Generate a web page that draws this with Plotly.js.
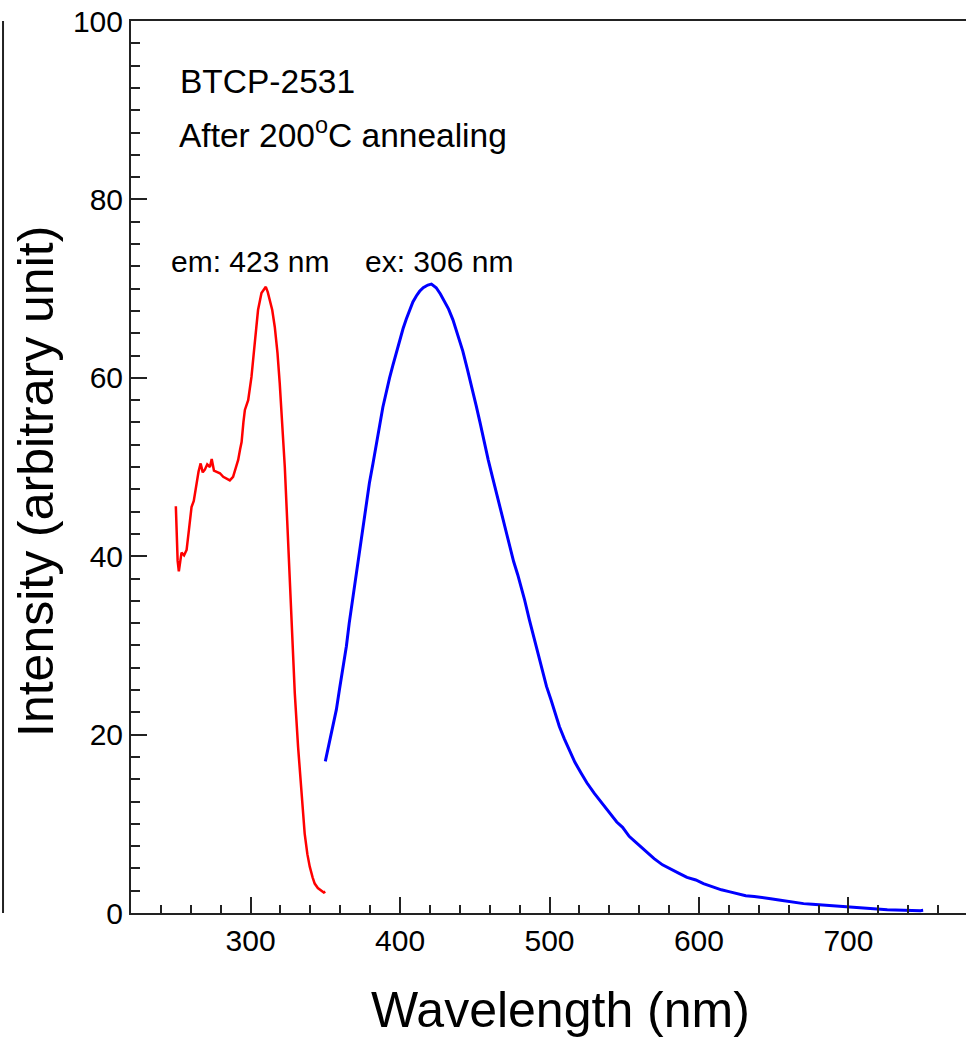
<!DOCTYPE html>
<html>
<head>
<meta charset="utf-8">
<script src="https://cdn.plot.ly/plotly-3.0.1.min.js"></script>
<style>
html, body { margin:0; padding:0; overflow:hidden; background:#fff; }
#chart { width:970px; height:1040px; }
</style>
</head>
<body>
<div id="chart"></div>
<script>
// Excitation spectrum (monitored at em: 423 nm)
var exWavelength = [250.0,250.5,251.2,252.0,253.0,253.8,255.5,257.2,258.8,260.5,262.0,263.9,265.2,266.6,268.0,269.4,271.0,272.8,274.0,275.5,277.2,279.5,281.7,284.0,286.1,288.3,290.0,291.7,293.0,294.0,295.2,296.2,298.4,300.6,302.8,305.0,307.3,308.8,310.2,311.5,312.9,314.5,316.2,318.0,319.5,321.2,322.9,324.5,326.2,327.3,329.6,331.8,334.0,336.2,338.0,339.6,341.5,342.9,345.0,347.0,349.0,350.0];
var exIntensity  = [45.6,42.0,39.5,38.3,39.6,40.4,40.1,40.7,43.0,45.5,46.2,48.2,49.5,50.4,49.4,49.7,50.3,50.0,50.9,49.6,49.5,49.3,48.9,48.7,48.5,48.9,49.8,50.8,52.0,52.8,55.0,56.4,57.5,60.1,63.9,67.6,69.5,69.8,70.2,69.6,68.7,67.6,65.7,62.8,59.4,55.0,50.0,44.0,36.9,32.1,24.6,18.6,13.4,8.9,6.6,5.2,4.0,3.3,2.8,2.5,2.3,2.4];

// Emission spectrum (excited at ex: 306 nm)
var emWavelength = [350.0,352.9,355.0,357.4,359.6,361.8,364.1,366.0,368.5,370.8,373.0,375.0,377.4,379.5,381.9,384.0,386.3,388.5,390.8,393.0,395.2,397.5,399.7,402.0,404.2,406.5,408.6,411.0,413.1,415.5,418.6,421.0,424.2,427.0,429.8,432.5,435.4,438.5,442.0,445.0,448.7,450.9,453.5,456.5,459.0,462.1,465.0,468.0,471.0,473.2,476.0,478.8,481.0,483.2,486.5,489.0,491.0,493.0,495.4,498.0,501.0,503.5,506.6,510.0,513.3,517.0,521.1,525.0,530.0,535.0,540.0,545.0,548.9,553.3,558.0,564.5,570.0,575.6,581.0,586.7,592.0,597.9,603.0,609.0,615.0,620.1,626.0,631.3,637.0,642.4,648.0,653.5,659.0,664.7,670.0,675.8,681.0,686.9,692.0,698.1,703.0,709.2,715.0,720.3,726.0,731.5,737.0,742.6,748.2,750.0];
var emIntensity  = [17.0,19.4,21.0,22.8,25.2,27.5,29.9,32.5,35.5,37.8,40.4,43.0,45.9,48.2,50.4,52.6,54.6,56.7,58.5,60.0,61.4,62.9,64.2,65.5,66.6,67.6,68.5,69.2,69.7,70.1,70.4,70.5,70.1,69.4,68.6,67.7,66.5,64.9,63.0,61.0,58.6,56.9,55.0,52.6,50.8,48.7,46.7,44.8,42.7,41.2,39.4,37.9,36.6,35.2,32.9,31.3,30.0,28.5,26.9,25.4,23.9,22.5,20.9,19.5,18.2,16.9,15.7,14.6,13.4,12.3,11.2,10.2,9.6,8.6,7.9,6.9,6.1,5.4,4.9,4.45,4.0,3.7,3.3,2.95,2.6,2.4,2.15,1.94,1.85,1.75,1.6,1.46,1.3,1.16,1.05,0.97,0.9,0.82,0.76,0.71,0.62,0.52,0.46,0.41,0.37,0.34,0.3,0.26,0.26,0.3];

var xTickVals = [300,400,500,600,700];
var yTickVals = [0,20,40,60,80,100];
var xTitle = 'Wavelength (nm)';
var yTitle = 'Intensity (arbitrary unit)';

var FONT = '"Liberation Sans", Arial, Helvetica, sans-serif';
var AX = '#222';

var traces = [
  {x: exWavelength, y: exIntensity, mode:'lines', name:'em: 423 nm',
   line:{color:'#ff0000', width:2.5}},
  {x: emWavelength, y: emIntensity, mode:'lines', name:'ex: 306 nm',
   line:{color:'#0000ff', width:3}}
];

var layout = {
  width: 970, height: 1040,
  margin: {l:131, r:2, t:21, b:127},
  paper_bgcolor:'#fff', plot_bgcolor:'#fff',
  showlegend:false,
  font:{family:FONT, color:'#000', size:30},
  xaxis:{
    range:[220,780], tickvals:xTickVals, ticktext:xTickVals.map(String),
    ticks:'inside', ticklen:16, tickwidth:2, tickcolor:AX,
    minor:{dtick:20, ticks:'inside', ticklen:8, tickwidth:2, tickcolor:AX},
    showline:true, linecolor:AX, linewidth:2, mirror:true,
    showgrid:false, zeroline:false,
    tickfont:{family:FONT, size:30, color:'#000'},
    automargin:false
  },
  yaxis:{
    range:[0,100], tickvals:yTickVals, ticktext:yTickVals.map(String),
    ticks:'inside', ticklen:16, tickwidth:2, tickcolor:AX,
    minor:{dtick:2.5, ticks:'inside', ticklen:9, tickwidth:2, tickcolor:AX},
    showline:true, linecolor:AX, linewidth:2, mirror:true,
    showgrid:false, zeroline:false,
    tickfont:{family:FONT, size:30, color:'#000'},
    automargin:false
  },
  annotations:[
    {x:0.5137, y:-0.1085, xref:'paper', yref:'paper', xanchor:'center', yanchor:'middle', showarrow:false,
     text:xTitle, font:{family:FONT, size:50, color:'#000'}},
    {x:-0.1135, y:0.4832, xref:'paper', yref:'paper', xanchor:'center', yanchor:'middle', showarrow:false,
     textangle:-90, text:yTitle, font:{family:FONT, size:50, color:'#000'}},
    {x:251.2, y:93.2, xref:'x', yref:'y', xanchor:'left', yanchor:'middle', showarrow:false,
     text:'BTCP-2531', font:{family:FONT, size:33.5, color:'#000'}},
    {x:250.5, y:87.4, xref:'x', yref:'y', xanchor:'left', yanchor:'middle', showarrow:false,
     text:'After 200<sup>o</sup>C annealing', font:{family:FONT, size:33.5, color:'#000'}},
    {x:245.6, y:73.0, xref:'x', yref:'y', xanchor:'left', yanchor:'middle', showarrow:false,
     text:'em: 423 nm', font:{family:FONT, size:30, color:'#000'}},
    {x:374.9, y:73.0, xref:'x', yref:'y', xanchor:'left', yanchor:'middle', showarrow:false,
     text:'ex: 306 nm', font:{family:FONT, size:30, color:'#000'}}
  ],
  shapes:[
    {type:'line', xref:'paper', yref:'paper', x0:-0.1529, x1:-0.1529, y0:0, y1:1,
     line:{color:AX, width:2}}
  ]
};

Plotly.newPlot('chart', traces, layout, {displayModeBar:false, staticPlot:true});
</script>
</body>
</html>
